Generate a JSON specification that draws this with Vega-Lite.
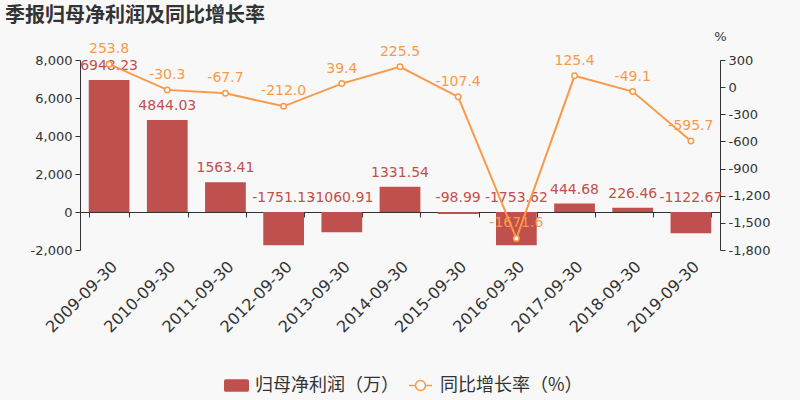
{
  "$schema": "https://vega.github.io/schema/vega-lite/v6.json",
  "width": 640,
  "height": 190,
  "autosize": {"type": "none"},
  "padding": {"left": 80, "top": 60, "right": 80, "bottom": 150},
  "background": "#f8f8f8",
  "config": {
    "font": "DejaVu Sans, Noto Sans CJK SC, sans-serif",
    "locale": {"number": {"decimal": ".", "thousands": ",", "grouping": [3], "currency": ["", ""], "minus": "-"}},
    "view": {"stroke": null},
    "axis": {"labelColor": "#333333", "domainColor": "#333333", "tickColor": "#333333", "grid": false, "labelOverlap": false, "labelFont": "DejaVu Sans, Noto Sans CJK SC, sans-serif"},
    "axisY": {"labelOverlap": false},
    "legend": {"labelFontSize": 18, "labelFont": "Noto Sans CJK SC, sans-serif", "labelColor": "#333333", "labelLimit": 400}
  },
  "title": {
    "text": "季报归母净利润及同比增长率",
    "anchor": "start",
    "frame": "group",
    "dx": -75,
    "offset": 4,
    "fontSize": 20,
    "fontWeight": "bold",
    "color": "#333333",
    "font": "Noto Sans CJK SC, sans-serif"
  },
  "data": {
    "values": [
      {"date": "2009-09-30", "profit": 6948.23, "growth": 253.8},
      {"date": "2010-09-30", "profit": 4844.03, "growth": -30.3},
      {"date": "2011-09-30", "profit": 1563.41, "growth": -67.7},
      {"date": "2012-09-30", "profit": -1751.13, "growth": -212.0},
      {"date": "2013-09-30", "profit": -1060.91, "growth": 39.4},
      {"date": "2014-09-30", "profit": 1331.54, "growth": 225.5},
      {"date": "2015-09-30", "profit": -98.99, "growth": -107.4},
      {"date": "2016-09-30", "profit": -1753.62, "growth": -1671.6},
      {"date": "2017-09-30", "profit": 444.68, "growth": 125.4},
      {"date": "2018-09-30", "profit": 226.46, "growth": -49.1},
      {"date": "2019-09-30", "profit": -1122.67, "growth": -595.7}
    ]
  },
  "encoding": {
    "x": {"field": "date", "type": "nominal", "sort": null, "scale": {"paddingInner": 0.3, "paddingOuter": 0.15}}
  },
  "layer": [
    {
      "encoding": {
        "y": {"type": "quantitative", "scale": {"domain": [-2000, 8000], "nice": false, "zero": false},
          "axis": {"title": null, "orient": "left", "values": [-2000, 0, 2000, 4000, 6000, 8000], "format": ",d", "labelOverlap": false, "labelFontSize": 13, "tickSize": 5, "labelPadding": 3}}
      },
      "layer": [
        {
          "mark": {"type": "bar"},
          "encoding": {
            "x": {"field": "date", "type": "nominal", "sort": null,
              "axis": {"title": null, "labels": false, "domain": true, "ticks": true, "tickSize": 5, "tickBand": "extent", "offset": -38, "orient": "bottom"}},
            "y": {"field": "profit", "type": "quantitative"},
            "fill": {"datum": "归母净利润（万）", "type": "nominal",
              "scale": {"range": ["#c0504d"]},
              "legend": {"title": null, "orient": "none", "legendX": 144, "legendY": 313,
                "symbolType": "M-0.85,-0.5H0.85Q1,-0.5,1,-0.35V0.35Q1,0.5,0.85,0.5H-0.85Q-1,0.5,-1,0.35V-0.35Q-1,-0.5,-0.85,-0.5Z",
                "symbolSize": 625, "symbolStrokeWidth": 0, "labelFontSize": 18, "labelColor": "#333333", "labelOffset": 6,
                "labelFont": "Noto Sans CJK SC, sans-serif"}}
          }
        },
        {
          "transform": [{"filter": "datum.profit >= 0"}],
          "mark": {"type": "text", "dy": -7, "baseline": "bottom", "fontSize": 14, "color": "#c0504d"},
          "encoding": {
            "y": {"field": "profit", "type": "quantitative"},
            "text": {"field": "profit", "type": "nominal"}
          }
        },
        {
          "transform": [{"filter": "datum.profit < 0"}],
          "mark": {"type": "text", "dy": -7, "baseline": "bottom", "fontSize": 14, "color": "#c0504d"},
          "encoding": {
            "y": {"datum": 0, "type": "quantitative"},
            "text": {"field": "profit", "type": "nominal"}
          }
        }
      ]
    },
    {
      "encoding": {
        "y": {"field": "growth", "type": "quantitative", "scale": {"domain": [-1800, 300], "nice": false, "zero": false},
          "axis": {"title": "%", "orient": "right", "values": [-1800, -1500, -1200, -900, -600, -300, 0, 300], "format": ",d", "labelOverlap": false, "labelFontSize": 13, "tickSize": 5, "labelPadding": 3,
            "titleAngle": 0, "titleX": 0, "titleY": -17, "titleFontSize": 13, "titleFontWeight": "normal", "titleColor": "#333333", "titleAlign": "center", "titleBaseline": "bottom"}}
      },
      "layer": [
        {
          "mark": {"type": "line", "strokeWidth": 2},
          "encoding": {
            "x": {"field": "date", "type": "nominal", "sort": null,
              "axis": {"title": null, "labelAngle": -45, "labelFontSize": 16, "domain": false, "ticks": false, "labelPadding": 8, "orient": "bottom"}},
            "stroke": {"datum": "同比增长率（%）", "type": "nominal",
              "scale": {"range": ["#f89a4a"]},
              "legend": {"title": null, "orient": "none", "legendX": 328, "legendY": 313,
                "symbolType": "M-1,0L-0.45,0M0.45,0L1,0M-0.43,0A0.43,0.43,0,1,1,0.43,0A0.43,0.43,0,1,1,-0.43,0Z",
                "symbolSize": 529, "symbolStrokeWidth": 1.5, "symbolFillColor": "#ffffff", "symbolStrokeColor": "#f89a4a",
                "labelFontSize": 18, "labelColor": "#333333", "labelOffset": 7, "labelFont": "Noto Sans CJK SC, sans-serif"}}
          }
        },
        {
          "mark": {"type": "point", "filled": true, "fill": "#ffffff", "stroke": "#f89a4a", "strokeWidth": 1.5, "size": 30, "opacity": 1},
          "encoding": {}
        },
        {
          "mark": {"type": "text", "dy": -8, "baseline": "bottom", "fontSize": 14, "color": "#f89a4a"},
          "encoding": {
            "text": {"field": "growth", "type": "quantitative", "format": ".1f"}
          }
        }
      ]
    }
  ],
  "resolve": {"scale": {"y": "independent"}, "axis": {"x": "independent"}}
}
